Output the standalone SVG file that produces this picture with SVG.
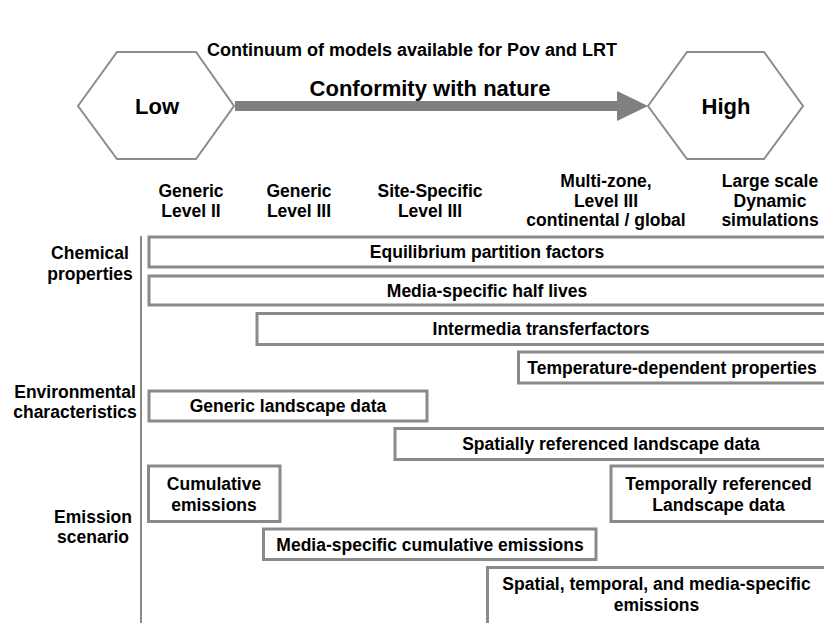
<svg xmlns="http://www.w3.org/2000/svg" width="824" height="623" viewBox="0 0 824 623">
  <style>
    text { font-family: "Liberation Sans", Arial, sans-serif; font-weight: bold; fill: #000; text-anchor: middle; }
    .title { font-size: 18px; }
    .hexlabel { font-size: 22px; }
    .axis { font-size: 22px; }
    .t { font-size: 17.5px; }
    .hex { fill: #fff; stroke: #8c8c8c; stroke-width: 2; }
    .box { fill: #fff; stroke: #8a8a8a; stroke-width: 3; }
    .rule { stroke: #8a8a8a; stroke-width: 2; fill: none; }
  </style>

  <text class="title" x="412" y="56">Continuum of models available for Pov and LRT</text>

  <!-- scale ends -->
  <g id="low">
    <polygon class="hex" points="78,106 117,52 196,52 234,106 196,159 117,159"/>
    <text class="hexlabel" x="157" y="114">Low</text>
  </g>
  <g id="high">
    <polygon class="hex" points="648,106 687,52 764,52 803,106 764,159 687,159"/>
    <text class="hexlabel" x="726" y="114">High</text>
  </g>

  <g id="connectors">
    <rect x="235" y="101" width="383" height="10" fill="#808080"/>
    <polygon points="617,91 648,106 617,121" fill="#808080"/>
    <line class="rule" x1="141" y1="236" x2="141" y2="623"/>
  </g>
  <text class="axis" x="430" y="96">Conformity with nature</text>

  <!-- column headers -->
  <g id="col-generic-ii">
    <text class="t" x="191" y="197">Generic</text>
    <text class="t" x="191" y="217">Level II</text>
  </g>
  <g id="col-generic-iii">
    <text class="t" x="299" y="197">Generic</text>
    <text class="t" x="299" y="217">Level III</text>
  </g>
  <g id="col-site">
    <text class="t" x="430" y="197">Site-Specific</text>
    <text class="t" x="430" y="217">Level III</text>
  </g>
  <g id="col-multizone">
    <text class="t" x="606" y="187">Multi-zone,</text>
    <text class="t" x="606" y="206.5">Level III</text>
    <text class="t" x="606" y="226">continental / global</text>
  </g>
  <g id="col-dynamic">
    <text class="t" x="770" y="187">Large scale</text>
    <text class="t" x="770" y="206.5">Dynamic</text>
    <text class="t" x="770" y="226">simulations</text>
  </g>

  <!-- row headers -->
  <g id="row-chemical">
    <text class="t" x="90" y="259">Chemical</text>
    <text class="t" x="90" y="280">properties</text>
  </g>
  <g id="row-environmental">
    <text class="t" x="75" y="398">Environmental</text>
    <text class="t" x="75" y="418">characteristics</text>
  </g>
  <g id="row-emission">
    <text class="t" x="93" y="523">Emission</text>
    <text class="t" x="93" y="543">scenario</text>
  </g>

  <!-- data requirement bars -->
  <g id="equilibrium">
    <rect class="box" x="149" y="237" width="680" height="30"/>
    <text class="t" x="487" y="258">Equilibrium partition factors</text>
  </g>
  <g id="half-lives">
    <rect class="box" x="149" y="276" width="680" height="29"/>
    <text class="t" x="487" y="296.5">Media-specific half lives</text>
  </g>
  <g id="transfer">
    <rect class="box" x="257" y="313.5" width="572" height="31"/>
    <text class="t" x="541" y="335">Intermedia transferfactors</text>
  </g>
  <g id="temperature">
    <rect class="box" x="518.5" y="352" width="310" height="31"/>
    <text class="t" x="672" y="373.5">Temperature-dependent properties</text>
  </g>
  <g id="generic-landscape">
    <rect class="box" x="149" y="391" width="278" height="30"/>
    <text class="t" x="288" y="412">Generic landscape data</text>
  </g>
  <g id="spatial-landscape">
    <rect class="box" x="395" y="428.5" width="434" height="31"/>
    <text class="t" x="611" y="450">Spatially referenced landscape data</text>
  </g>
  <g id="cumulative">
    <rect class="box" x="148.5" y="466" width="131.5" height="55.5"/>
    <text class="t" x="214" y="490">Cumulative</text>
    <text class="t" x="214" y="511">emissions</text>
  </g>
  <g id="temporal-landscape">
    <rect class="box" x="611" y="466" width="218" height="55.5"/>
    <text class="t" x="718.5" y="489.5">Temporally referenced</text>
    <text class="t" x="718.5" y="510.5">Landscape data</text>
  </g>
  <g id="media-cumulative">
    <rect class="box" x="263.5" y="529" width="332.5" height="30.5"/>
    <text class="t" x="430" y="550.5">Media-specific cumulative emissions</text>
  </g>
  <g id="spatial-temporal-media">
    <rect class="box" x="487.5" y="567.5" width="342" height="70"/>
    <text class="t" x="656.5" y="590">Spatial, temporal, and media-specific</text>
    <text class="t" x="656.5" y="611">emissions</text>
  </g>
</svg>
